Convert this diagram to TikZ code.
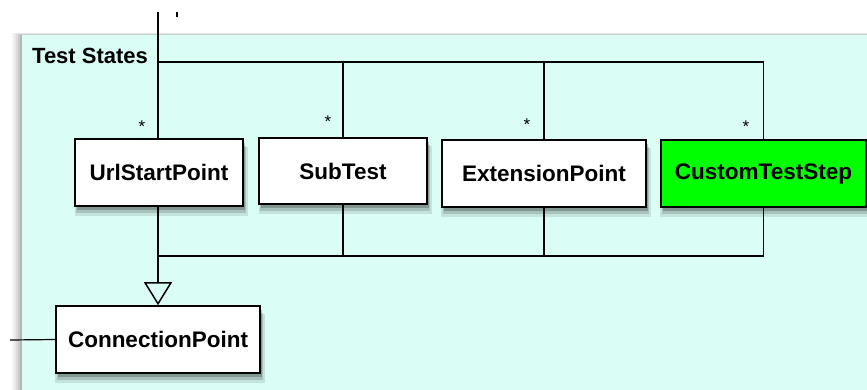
\documentclass[tikz,border=0pt]{standalone}
\usepackage{fontspec}
\setmainfont{Liberation Sans}
\usetikzlibrary{arrows.meta,shadows}
\definecolor{panelcyan}{RGB}{218,253,245}
\definecolor{stepgreen}{RGB}{0,255,0}
\tikzset{
  px/.style={x=1pt,y=-1pt},
  umlbox/.style={draw=black,line width=1.6pt,fill=white,inner sep=0pt,
    font=\fontsize{22.5}{24}\selectfont\bfseries,
    drop shadow={shadow xshift=2pt,shadow yshift=-9pt,shadow scale=1.03,opacity=0.10,fill=black},
    drop shadow={shadow xshift=2pt,shadow yshift=-7pt,shadow scale=1.01,opacity=0.14,fill=black},
    drop shadow={shadow xshift=1.5pt,shadow yshift=-4pt,opacity=0.22,fill=black}},
  wire/.style={draw=black,line width=1.5pt},
  mult/.style={font=\fontsize{17}{18}\selectfont,inner sep=0pt},
}
\begin{document}
\begin{tikzpicture}[px]
\useasboundingbox (0,0) rectangle (867,389);
% panel with a soft shadow on its top and left edges
\foreach \o/\a in {10/0.04,8/0.05,6/0.06,4/0.08,2/0.10}{
  \fill[black,opacity=\a] (22-\o,35-\o/5) rectangle (880,400);
}
\fill[panelcyan] (22,35) rectangle (880,400);
\node[anchor=base west,inner sep=0pt,font=\fontsize{22}{24}\selectfont\bfseries] (title) at (32,63) {Test States};

% classes
\node[umlbox,minimum width=168pt,minimum height=67pt] (url) at (159,172.5) {UrlStartPoint};
\node[umlbox,minimum width=168pt,minimum height=66pt] (sub) at (343,171) {SubTest};
\node[umlbox,minimum width=204pt,minimum height=67pt] (ext) at (544,173.5) {ExtensionPoint};
\node[umlbox,fill=stepgreen,minimum width=205pt,minimum height=67pt] (cts) at (763.5,173.5) {CustomTestStep};
\node[umlbox,minimum width=204pt,minimum height=67pt] (conn) at (158,339.5) {ConnectionPoint};

% composition bus from the container
\coordinate (top) at (158,12);
\coordinate (bus) at (158,62);
\coordinate (tick) at (177,12);
\draw[wire] (top) -- (url.north -| top);
\draw[wire] (bus) -| (sub.north);
\draw[wire] (bus) -| (ext.north);
\draw[wire] (bus) -| (cts.north);
\draw[line width=1.5pt] (tick) -- ++(0,5);

% multiplicities
\node[mult] (m1) at (142,127) {*};
\node[mult] (m2) at (328,122) {*};
\node[mult] (m3) at (527,125) {*};
\node[mult] (m4) at (746,127) {*};

% generalisation to ConnectionPoint
\coordinate (jn) at (158,256);
\draw[wire] (url.south -| jn) -- (jn);
\draw[wire] (sub.south) |- (jn);
\draw[wire] (ext.south) |- (jn);
\draw[wire] (cts.south) |- (jn);
\draw[wire,-{Triangle[open,length=23pt,width=28pt,line width=1.5pt]}] (jn) -- (conn.north);

% incoming link on the left
\coordinate (lft) at (10,340);
\draw[line width=1.2pt] (lft) -- (conn.west);
\end{tikzpicture}
\end{document}
